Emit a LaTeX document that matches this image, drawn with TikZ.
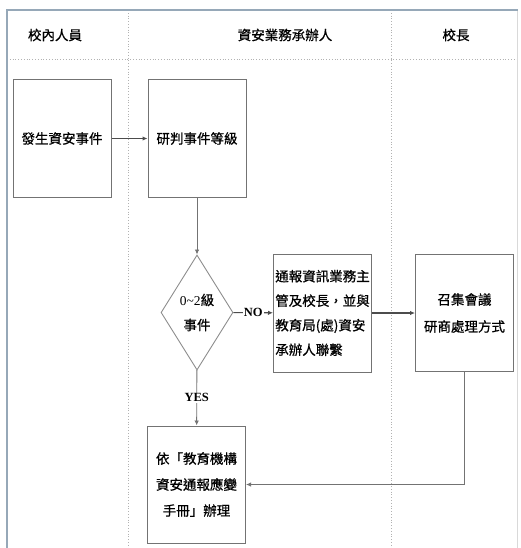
\documentclass[tikz,border=0pt]{standalone}
\usepackage{xcolor}
\usepackage{fontspec}
\setmainfont{Liberation Serif}
\newfontfamily\cjk[FakeBold=0.8]{Noto Sans CJK TC}
\usetikzlibrary{arrows.meta,shapes.geometric}
\definecolor{framec}{RGB}{150,168,184}

\begin{document}
\begin{tikzpicture}[x=1pt,y=-1pt,
  box/.style={draw=black!55, line width=1pt, minimum width=98pt, minimum height=117pt,
    inner sep=0pt, align=center, font=\cjk\fontsize{13.5}{25}\selectfont},
  flow/.style={draw=black!70, line width=1.1pt, -{Latex[length=5pt,width=4.5pt]}},
  lane/.style={draw=black!30, dotted, line width=0.8pt},
  head/.style={font=\cjk\fontsize{13.5}{16}\selectfont},
  tag/.style={fill=white, inner sep=1pt, font=\bfseries\fontsize{12.5}{14}\selectfont}]

          \useasboundingbox (0,0) rectangle (520,548);

          % lanes
          \draw[lane] (7,59) -- (518,59);
          \draw[lane] (128,10) -- (128,548);
          \draw[lane] (391,10) -- (391,548);
          \draw[black!15, line width=0.8pt] (517,10) -- (517,548);
          \draw[framec, line width=2.2pt] (7,548) -- (7,10) -- (518,10);

          \node[head] (staff) at (55,35) {校內人員};
          \node[head] (officer) at (285,35) {資安業務承辦人};
          \node[head] (principal) at (456,35) {校長};

          % steps
          \node[box] (occur) at (62,138.5) {發生資安事件};
          \node[box] (judge) at (197,138.5) {研判事件等級};
          \node[diamond, draw=black!45, line width=0.9pt, inner sep=0pt,
                shape aspect=0.63, minimum width=72pt, minimum height=115pt,
                align=center, font=\cjk\fontsize{13.5}{25}\selectfont]
                (level) at (197,312.5) {{\rmfamily 0\textasciitilde 2}級\\事件};
          \node[box, align=left, minimum height=118pt,
                font=\cjk\fontsize{13.5}{24.5}\selectfont]
                (report) at (322.5,313) {通報資訊業務主\\管及校長，並與\\教育局(處)資安\\承辦人聯繫};
          \node[box, font=\cjk\fontsize{13.5}{27}\selectfont]
                (meet) at (464.5,313) {召集會議\\研商處理方式};
          \node[box, font=\cjk\fontsize{13.5}{26}\selectfont]
                (manual) at (196.5,484.5) {依「教育機構\\資安通報應變\\手冊」辦理};

          % flow
          \draw[flow] (occur) -- (judge);
          \draw[flow, draw=black!55, line width=0.9pt] (judge) -- (level);
          \draw[flow] (level) -- node[tag]{NO} (report);
          \draw[flow, draw=black!55, line width=0.9pt] (level) -- node[tag]{YES} (manual);
          \draw[flow] (report) -- (meet);
          \draw[flow, draw=black!55, line width=0.9pt] (meet.south) |- (manual.east);

\end{tikzpicture}
\end{document}
